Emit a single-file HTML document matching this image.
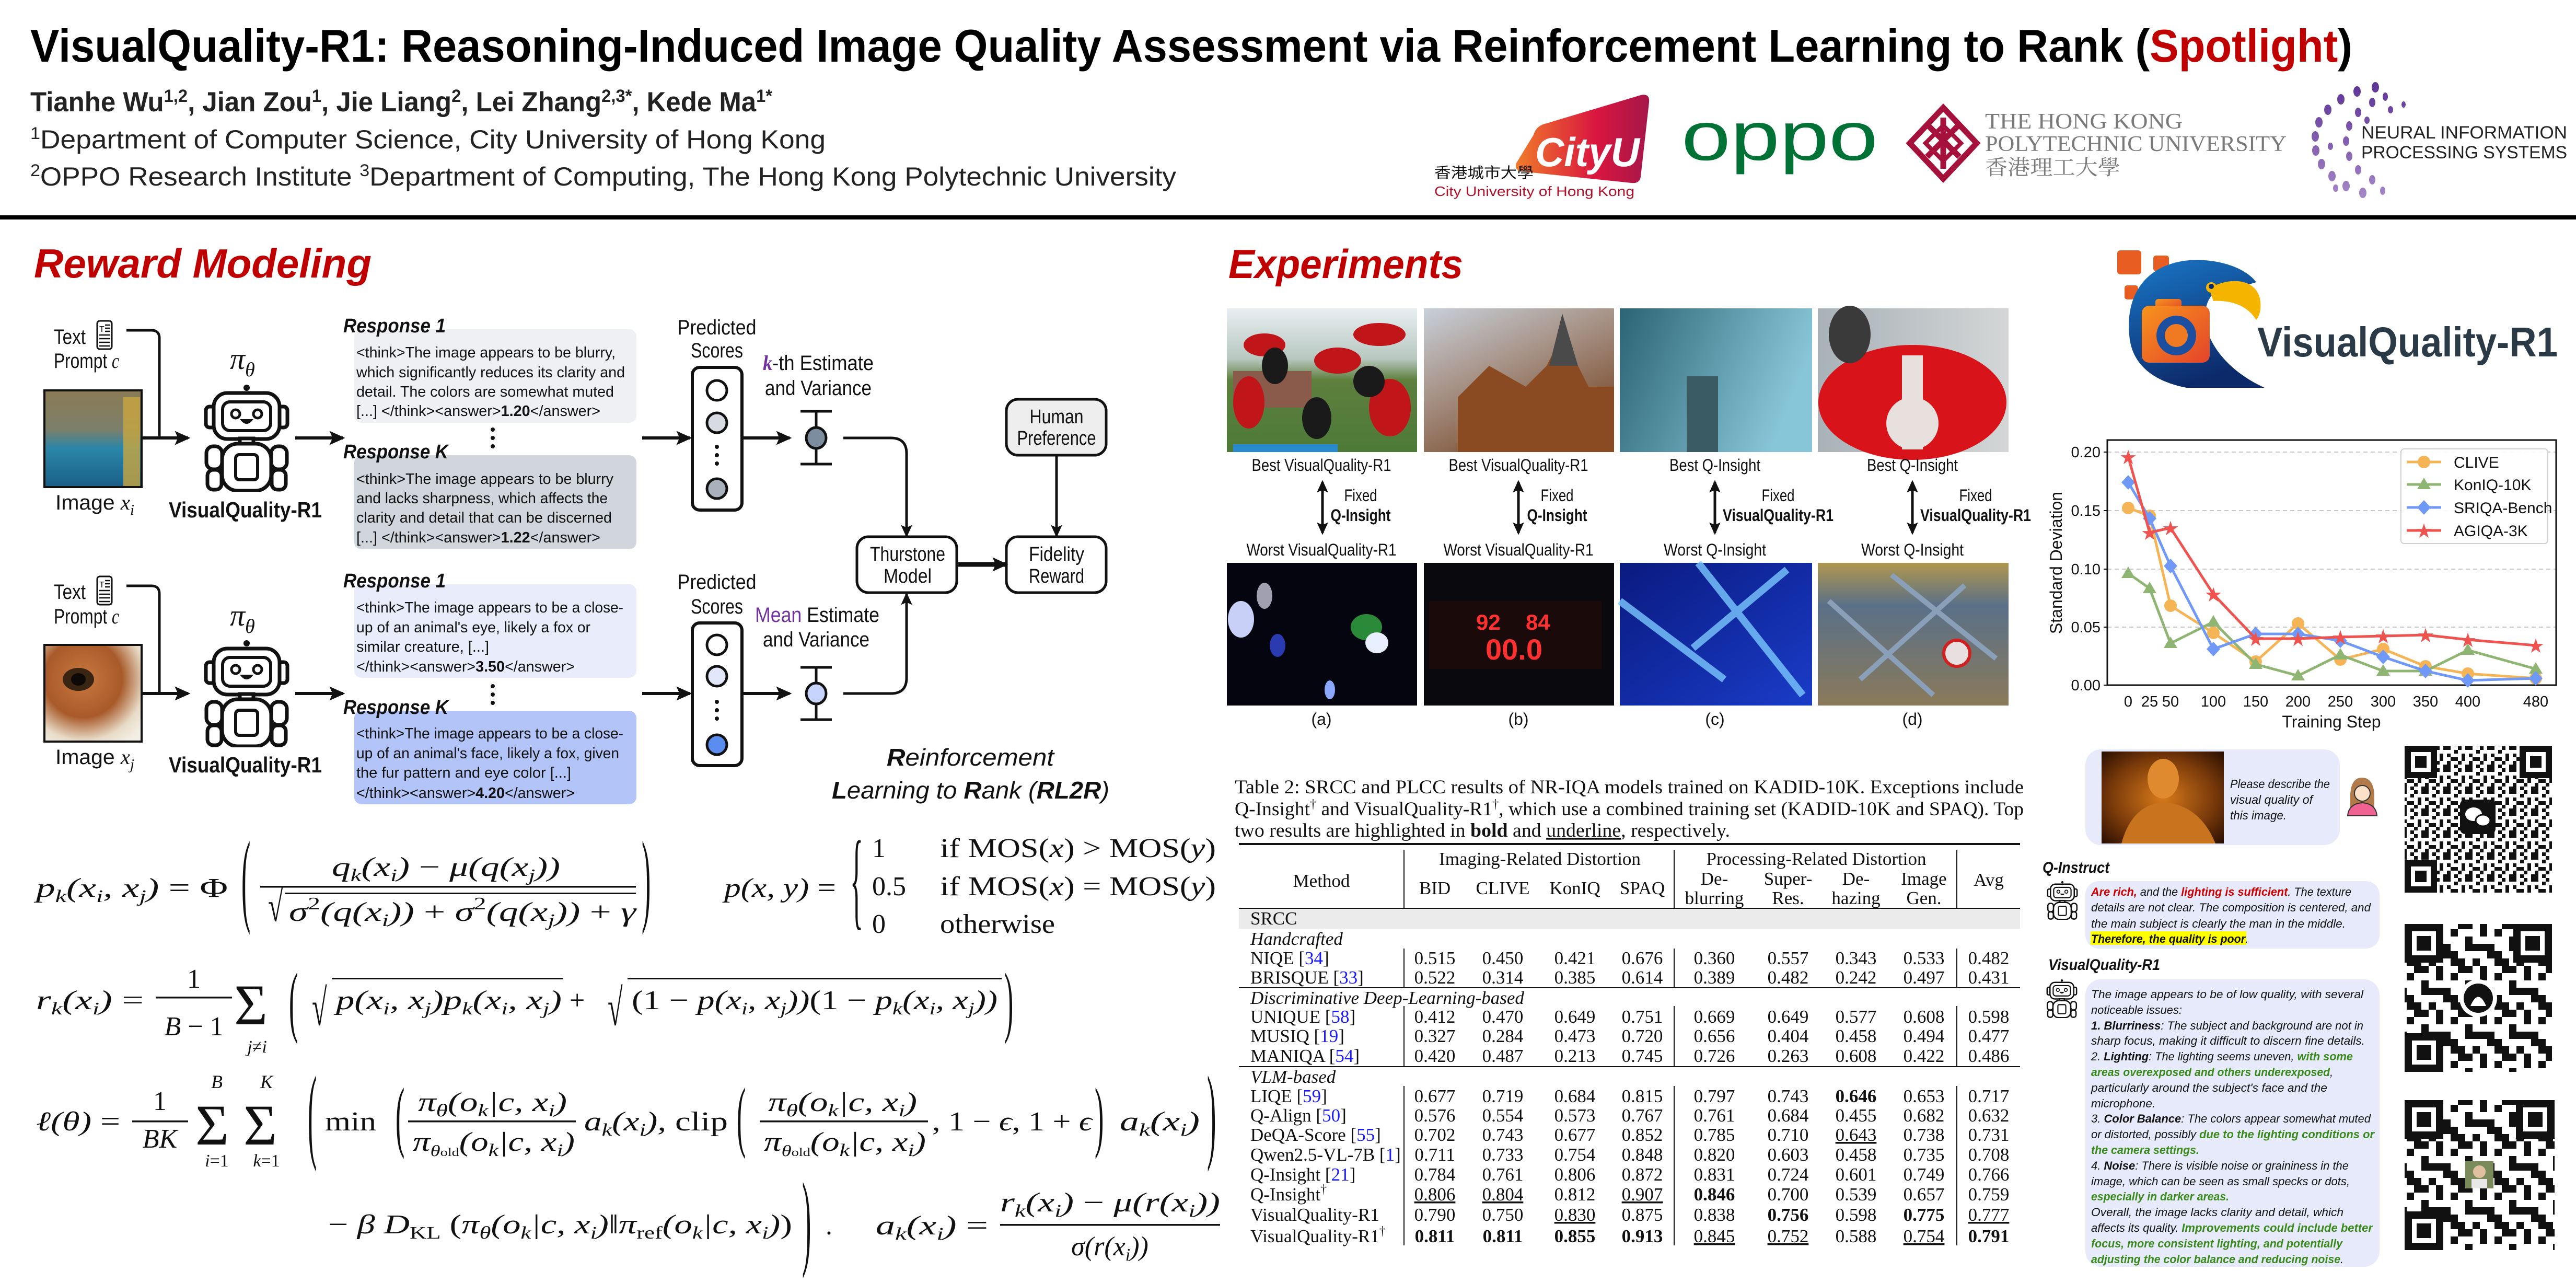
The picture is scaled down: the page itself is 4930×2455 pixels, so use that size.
<!DOCTYPE html>
<html><head><meta charset="utf-8">
<style>
html,body{margin:0;padding:0;background:#fff;}
svg{display:block;}
.sans{font-family:"Liberation Sans",sans-serif;}
.serif{font-family:"Liberation Serif",serif;}
.m{font-family:"Liberation Serif",serif;font-style:italic;}
.r{font-family:"Liberation Serif",serif;font-style:normal;}
</style></head>
<body>
<svg width="4930" height="2455" viewBox="0 0 4930 2455" xmlns="http://www.w3.org/2000/svg">
<defs>
<marker id="ah" viewBox="0 0 20 20" refX="17" refY="10" markerWidth="30" markerHeight="30" orient="auto-start-reverse" markerUnits="userSpaceOnUse"><path d="M0,1 L20,10 L0,19 L4,10 Z" fill="#111"/></marker>
<marker id="ah2" viewBox="0 0 20 20" refX="17" refY="10" markerWidth="24" markerHeight="24" orient="auto-start-reverse" markerUnits="userSpaceOnUse"><path d="M0,1 L20,10 L0,19 L4,10 Z" fill="#111"/></marker>
<symbol id="robot" viewBox="0 0 166 205">
<g fill="#fff" stroke="#111" stroke-width="7">
<rect x="5" y="42" width="18" height="40" rx="7"/><rect x="143" y="42" width="18" height="40" rx="7"/>
<rect x="20" y="16" width="126" height="88" rx="26"/>
<rect x="37" y="33" width="92" height="55" rx="14" stroke-width="6"/>
<rect x="70" y="103" width="26" height="12"/>
<rect x="6" y="118" width="30" height="44" rx="13"/><rect x="130" y="118" width="30" height="44" rx="13"/>
<rect x="8" y="163" width="27" height="38" rx="11"/><rect x="131" y="163" width="27" height="38" rx="11"/>
<rect x="36" y="113" width="94" height="90" rx="30"/>
<rect x="62" y="134" width="42" height="48" rx="7" stroke-width="6"/>
<circle cx="62" cy="56" r="8" stroke-width="5"/><circle cx="104" cy="56" r="8" stroke-width="5"/>
</g>
<circle cx="83" cy="6" r="6" fill="#111"/>
<path d="M70,66 Q83,84 96,66 Z" fill="#111"/>
</symbol>
<symbol id="doc" viewBox="0 0 34 60">
<rect x="3" y="3" width="28" height="54" rx="5" fill="#fff" stroke="#111" stroke-width="3"/>
<text x="7" y="24" font-family="Liberation Sans" font-size="16" fill="#111">T</text>
<g stroke="#111" stroke-width="2.5"><line x1="18" y1="11" x2="28" y2="11"/><line x1="18" y1="17" x2="28" y2="17"/><line x1="18" y1="23" x2="28" y2="23"/><line x1="7" y1="30" x2="28" y2="30"/><line x1="7" y1="37" x2="28" y2="37"/><line x1="7" y1="44" x2="28" y2="44"/><line x1="7" y1="51" x2="28" y2="51"/></g>
</symbol>
<pattern id="qr1" width="42" height="42" patternUnits="userSpaceOnUse">
<g fill="#111"><rect x="0" y="0" width="7" height="7"/><rect x="14" y="0" width="14" height="7"/><rect x="35" y="7" width="7" height="7"/><rect x="7" y="14" width="7" height="14"/><rect x="21" y="14" width="7" height="7"/><rect x="28" y="21" width="14" height="7"/><rect x="0" y="28" width="7" height="7"/><rect x="14" y="35" width="14" height="7"/><rect x="35" y="35" width="7" height="7"/><rect x="21" y="28" width="7" height="7"/></g>
</pattern>
<pattern id="qr2" width="84" height="84" patternUnits="userSpaceOnUse">
<g fill="#111"><rect x="0" y="0" width="28" height="14"/><rect x="42" y="0" width="14" height="28"/><rect x="70" y="14" width="14" height="14"/><rect x="14" y="28" width="14" height="28"/><rect x="28" y="42" width="28" height="14"/><rect x="56" y="42" width="14" height="28"/><rect x="0" y="70" width="14" height="14"/><rect x="28" y="70" width="14" height="14"/><rect x="70" y="56" width="14" height="28"/></g>
</pattern>
<linearGradient id="cityg" x1="0" y1="0" x2="1" y2="0"><stop offset="0" stop-color="#f07b2a"/><stop offset="0.6" stop-color="#d9163f"/><stop offset="1" stop-color="#a5164a"/></linearGradient>
<linearGradient id="nips" x1="0" y1="160" x2="0" y2="380" gradientUnits="userSpaceOnUse"><stop offset="0" stop-color="#5e3596"/><stop offset="1" stop-color="#a588c8"/></linearGradient>
<linearGradient id="eag" x1="0" y1="0" x2="0.4" y2="1"><stop offset="0" stop-color="#1a78c8"/><stop offset="1" stop-color="#0c2a6a"/></linearGradient>
<linearGradient id="cam" x1="0" y1="0" x2="1" y2="1"><stop offset="0" stop-color="#f7941d"/><stop offset="1" stop-color="#e4432a"/></linearGradient>
<linearGradient id="xi" x1="0" y1="0" x2="0" y2="1"><stop offset="0" stop-color="#8a7b55"/><stop offset="0.4" stop-color="#7d7f6a"/><stop offset="0.6" stop-color="#2a86a8"/><stop offset="1" stop-color="#1b5f86"/></linearGradient>
<radialGradient id="xj" cx="0.4" cy="0.35" r="0.8"><stop offset="0" stop-color="#c9783e"/><stop offset="0.5" stop-color="#a85a2a"/><stop offset="0.8" stop-color="#e8dcc8"/><stop offset="1" stop-color="#f4efe6"/></radialGradient>
<linearGradient id="ca" x1="0" y1="0" x2="0" y2="1"><stop offset="0" stop-color="#e8eef2"/><stop offset="0.35" stop-color="#b8c8c0"/><stop offset="0.5" stop-color="#5e7f3e"/><stop offset="1" stop-color="#4d7a38"/></linearGradient>
<linearGradient id="cb" x1="0" y1="0" x2="0.6" y2="1"><stop offset="0" stop-color="#c8d0da"/><stop offset="0.45" stop-color="#a8958a"/><stop offset="1" stop-color="#7a4a2a"/></linearGradient>
<linearGradient id="cc" x1="0" y1="0" x2="1" y2="0.3"><stop offset="0" stop-color="#2c6474"/><stop offset="1" stop-color="#87c6d8"/></linearGradient>
<linearGradient id="cd" x1="0" y1="0" x2="1" y2="0"><stop offset="0" stop-color="#a8b2b8"/><stop offset="1" stop-color="#d4d6d6"/></linearGradient>
<linearGradient id="cc2" x1="0" y1="0" x2="1" y2="1"><stop offset="0" stop-color="#0a1a80"/><stop offset="1" stop-color="#1a3cc8"/></linearGradient>
<linearGradient id="cd2" x1="0" y1="0" x2="0" y2="1"><stop offset="0" stop-color="#b0974e"/><stop offset="0.3" stop-color="#5a7088"/><stop offset="1" stop-color="#8a7a5a"/></linearGradient>
<radialGradient id="man" cx="0.5" cy="0.5" r="0.7"><stop offset="0" stop-color="#d77a1a"/><stop offset="0.6" stop-color="#7a3a0a"/><stop offset="1" stop-color="#2a0e02"/></radialGradient>
</defs>

<!-- HEADER -->
<text x="58" y="118" class="sans" font-size="88" font-weight="bold" fill="#000" textLength="4444" lengthAdjust="spacingAndGlyphs">VisualQuality-R1: Reasoning-Induced Image Quality Assessment via Reinforcement Learning to Rank (<tspan fill="#c00000">Spotlight</tspan>)</text>
<text x="58" y="213" class="sans" font-size="53" font-weight="bold" fill="#222" textLength="1420" lengthAdjust="spacingAndGlyphs">Tianhe Wu<tspan font-size="34" baseline-shift="18">1,2</tspan>, Jian Zou<tspan font-size="34" baseline-shift="18">1</tspan>, Jie Liang<tspan font-size="34" baseline-shift="18">2</tspan>, Lei Zhang<tspan font-size="34" baseline-shift="18">2,3*</tspan>, Kede Ma<tspan font-size="34" baseline-shift="18">1*</tspan></text>
<text x="58" y="284" class="sans" font-size="50" fill="#222" textLength="1522" lengthAdjust="spacingAndGlyphs"><tspan font-size="32" baseline-shift="18">1</tspan>Department of Computer Science, City University of Hong Kong</text>
<text x="58" y="355" class="sans" font-size="50" fill="#222" textLength="2193" lengthAdjust="spacingAndGlyphs"><tspan font-size="32" baseline-shift="18">2</tspan>OPPO Research Institute <tspan font-size="32" baseline-shift="18">3</tspan>Department of Computing, The Hong Kong Polytechnic University</text>
<rect x="0" y="412" width="4930" height="8" fill="#000"/>

<!-- LOGOS -->
<path d="M2935,258 Q2940,240 2960,236 L3140,182 Q3158,178 3156,196 L3140,338 Q3138,352 3122,350 L2912,328 Q2898,326 2902,312 Z" fill="url(#cityg)"/>
<text x="2938" y="318" class="sans" font-size="78" font-weight="bold" font-style="italic" fill="#fff" textLength="200" lengthAdjust="spacingAndGlyphs">CityU</text>
<text x="2745" y="340" font-family="'Noto Sans CJK TC',sans-serif" font-size="28" fill="#111" textLength="190" lengthAdjust="spacingAndGlyphs">香港城市大學</text>
<text x="2745" y="375" class="sans" font-size="26" fill="#b0102a" textLength="383" lengthAdjust="spacingAndGlyphs">City University of Hong Kong</text>
<text x="3218" y="306" class="sans" font-size="132" fill="#007236" textLength="376" lengthAdjust="spacingAndGlyphs">oppo</text>
<g fill="none" stroke="#a6113c" stroke-width="11">
<path d="M3719,206 L3783,274 L3719,342 L3655,274 Z"/>
<path d="M3690,240 L3750,300 M3748,240 L3688,300 M3719,225 L3719,323"/>
<path d="M3685,274 L3719,240 L3753,274 L3719,308 Z" stroke-width="8"/>
</g>
<text x="3799" y="246" class="serif" font-size="42" fill="#7a7a7a" textLength="378" lengthAdjust="spacingAndGlyphs">THE HONG KONG</text>
<text x="3799" y="289" class="serif" font-size="42" fill="#7a7a7a" textLength="577" lengthAdjust="spacingAndGlyphs">POLYTECHNIC UNIVERSITY</text>
<text x="3799" y="334" font-family="'Noto Serif CJK SC','Noto Sans CJK TC',serif" font-size="40" fill="#7a7a7a" textLength="259" lengthAdjust="spacingAndGlyphs">香港理工大學</text>
<g fill="url(#nips)">
<ellipse cx="4522" cy="369" rx="7" ry="10"/><ellipse cx="4490" cy="356" rx="7" ry="10"/><ellipse cx="4463" cy="337" rx="7" ry="10"/><ellipse cx="4443" cy="314" rx="7" ry="10"/><ellipse cx="4432" cy="288" rx="7" ry="10"/><ellipse cx="4431" cy="261" rx="7" ry="10"/><ellipse cx="4438" cy="234" rx="7" ry="10"/><ellipse cx="4455" cy="210" rx="7" ry="10"/><ellipse cx="4480" cy="190" rx="7" ry="10"/><ellipse cx="4511" cy="175" rx="7" ry="10"/><ellipse cx="4546" cy="167" rx="7" ry="10"/>
<ellipse cx="4540" cy="344" rx="6" ry="9"/><ellipse cx="4513" cy="325" rx="6" ry="9"/><ellipse cx="4496" cy="299" rx="6" ry="9"/><ellipse cx="4490" cy="270" rx="6" ry="9"/><ellipse cx="4496" cy="241" rx="6" ry="9"/><ellipse cx="4513" cy="215" rx="6" ry="9"/><ellipse cx="4540" cy="196" rx="6" ry="9"/><ellipse cx="4565" cy="185" rx="5" ry="8"/><ellipse cx="4575" cy="210" rx="5" ry="7"/><ellipse cx="4600" cy="200" rx="4" ry="6"/><ellipse cx="4460" cy="280" rx="5" ry="7"/><ellipse cx="4470" cy="360" rx="5" ry="7"/><ellipse cx="4560" cy="365" rx="5" ry="8"/><ellipse cx="4530" cy="230" rx="5" ry="7"/>
</g>
<text x="4519" y="265" class="sans" font-size="34" fill="#222" textLength="394" lengthAdjust="spacingAndGlyphs">NEURAL INFORMATION</text>
<text x="4519" y="303" class="sans" font-size="34" fill="#222" textLength="394" lengthAdjust="spacingAndGlyphs">PROCESSING SYSTEMS</text>

<!-- REWARD MODELING -->
<text x="65" y="531" class="sans" font-size="78" font-weight="bold" font-style="italic" fill="#c00000" textLength="646" lengthAdjust="spacingAndGlyphs">Reward Modeling</text>

<!-- top branch -->
<text x="103" y="658" class="sans" font-size="40" fill="#111" textLength="61" lengthAdjust="spacingAndGlyphs">Text</text>
<text x="103" y="704" class="sans" font-size="40" fill="#111" textLength="125" lengthAdjust="spacingAndGlyphs">Prompt <tspan class="m">c</tspan></text>
<use href="#doc" x="183" y="611" width="34" height="60"/>
<rect x="85" y="747" width="186" height="185" fill="url(#xi)" stroke="#111" stroke-width="4"/>
<rect x="236" y="760" width="32" height="170" fill="#c9a640" opacity="0.8"/>
<text x="106" y="975" class="sans" font-size="40" fill="#111" textLength="151" lengthAdjust="spacingAndGlyphs">Image <tspan class="m">x<tspan font-size="28" baseline-shift="-10">i</tspan></tspan></text>
<text x="440" y="706" class="m" font-size="58" fill="#111">π<tspan font-size="38" baseline-shift="-14">θ</tspan></text>
<use href="#robot" x="389" y="736" width="166" height="205"/>
<text x="323" y="990" class="sans" font-size="42" font-weight="bold" fill="#111" textLength="293" lengthAdjust="spacingAndGlyphs">VisualQuality-R1</text>
<path d="M242,632 H290 Q305,632 305,647 V838" fill="none" stroke="#111" stroke-width="5"/>
<line x1="271" y1="838" x2="360" y2="838" stroke="#111" stroke-width="6" marker-end="url(#ah)"/>
<line x1="565" y1="838" x2="656" y2="838" stroke="#111" stroke-width="6" marker-end="url(#ah)"/>

<rect x="678" y="630" width="540" height="179" rx="14" fill="#eff0f4"/>
<text x="657" y="636" class="sans" font-size="38" font-weight="bold" font-style="italic" fill="#111" textLength="196" lengthAdjust="spacingAndGlyphs">Response 1</text>
<g class="sans" font-size="29" fill="#111">
<text x="682" y="684" textLength="496" lengthAdjust="spacingAndGlyphs">&lt;think&gt;The image appears to be blurry,</text>
<text x="682" y="722" textLength="514" lengthAdjust="spacingAndGlyphs">which significantly reduces its clarity and</text>
<text x="682" y="759" textLength="493" lengthAdjust="spacingAndGlyphs">detail. The colors are somewhat muted</text>
<text x="682" y="796" textLength="467" lengthAdjust="spacingAndGlyphs">[...] &lt;/think&gt;&lt;answer&gt;<tspan font-weight="bold">1.20</tspan>&lt;/answer&gt;</text>
</g>
<g fill="#111"><circle cx="943" cy="822" r="4"/><circle cx="943" cy="838" r="4"/><circle cx="943" cy="854" r="4"/></g>
<rect x="678" y="871" width="540" height="180" rx="14" fill="#d1d5dc"/>
<text x="657" y="877" class="sans" font-size="38" font-weight="bold" font-style="italic" fill="#111" textLength="201" lengthAdjust="spacingAndGlyphs">Response K</text>
<g class="sans" font-size="29" fill="#111">
<text x="682" y="926" textLength="492" lengthAdjust="spacingAndGlyphs">&lt;think&gt;The image appears to be blurry</text>
<text x="682" y="963" textLength="481" lengthAdjust="spacingAndGlyphs">and lacks sharpness, which affects the</text>
<text x="682" y="1000" textLength="489" lengthAdjust="spacingAndGlyphs">clarity and detail that can be discerned</text>
<text x="682" y="1038" textLength="467" lengthAdjust="spacingAndGlyphs">[...] &lt;/think&gt;&lt;answer&gt;<tspan font-weight="bold">1.22</tspan>&lt;/answer&gt;</text>
</g>

<text x="1372" y="640" text-anchor="middle" class="sans" font-size="40" fill="#111" textLength="151" lengthAdjust="spacingAndGlyphs">Predicted</text>
<text x="1372" y="684" text-anchor="middle" class="sans" font-size="40" fill="#111" textLength="100" lengthAdjust="spacingAndGlyphs">Scores</text>
<line x1="1229" y1="838" x2="1320" y2="838" stroke="#111" stroke-width="6" marker-end="url(#ah)"/>
<rect x="1325" y="703" width="95" height="273" rx="14" fill="#fff" stroke="#111" stroke-width="6"/>
<g stroke="#111" stroke-width="5"><circle cx="1372" cy="747" r="19" fill="#fff"/><circle cx="1372" cy="809" r="19" fill="#d8dbe1"/><circle cx="1372" cy="935" r="19" fill="#a9b1bd"/></g>
<g fill="#111"><circle cx="1372" cy="855" r="4"/><circle cx="1372" cy="871" r="4"/><circle cx="1372" cy="887" r="4"/></g>
<line x1="1423" y1="838" x2="1511" y2="838" stroke="#111" stroke-width="6" marker-end="url(#ah)"/>
<text x="1460" y="708" class="sans" font-size="40" fill="#111" textLength="212" lengthAdjust="spacingAndGlyphs"><tspan fill="#7030a0" font-style="italic" font-weight="bold" class="m">k</tspan>-th Estimate</text>
<text x="1464" y="756" class="sans" font-size="40" fill="#111" textLength="204" lengthAdjust="spacingAndGlyphs">and Variance</text>
<g stroke="#111" stroke-width="5"><line x1="1562" y1="787" x2="1562" y2="888"/><line x1="1532" y1="787" x2="1592" y2="787"/><line x1="1532" y1="888" x2="1592" y2="888"/><ellipse cx="1562" cy="838" rx="19" ry="20" fill="#7d8da0"/></g>
<path d="M1614,838 H1705 Q1735,838 1735,868 V1025" fill="none" stroke="#111" stroke-width="5" marker-end="url(#ah2)"/>

<rect x="1926" y="764" width="191" height="107" rx="22" fill="#eeeeee" stroke="#111" stroke-width="5"/>
<text x="2022" y="810" text-anchor="middle" class="sans" font-size="38" fill="#111" textLength="103" lengthAdjust="spacingAndGlyphs">Human</text>
<text x="2022" y="851" text-anchor="middle" class="sans" font-size="38" fill="#111" textLength="151" lengthAdjust="spacingAndGlyphs">Preference</text>
<line x1="2022" y1="871" x2="2022" y2="1025" stroke="#111" stroke-width="5" marker-end="url(#ah2)"/>
<rect x="1640" y="1027" width="191" height="107" rx="22" fill="#fff" stroke="#111" stroke-width="5"/>
<text x="1737" y="1073" text-anchor="middle" class="sans" font-size="38" fill="#111" textLength="144" lengthAdjust="spacingAndGlyphs">Thurstone</text>
<text x="1737" y="1115" text-anchor="middle" class="sans" font-size="38" fill="#111" textLength="92" lengthAdjust="spacingAndGlyphs">Model</text>
<rect x="1926" y="1027" width="191" height="107" rx="22" fill="#fff" stroke="#111" stroke-width="5"/>
<text x="2022" y="1073" text-anchor="middle" class="sans" font-size="38" fill="#111" textLength="106" lengthAdjust="spacingAndGlyphs">Fidelity</text>
<text x="2022" y="1115" text-anchor="middle" class="sans" font-size="38" fill="#111" textLength="106" lengthAdjust="spacingAndGlyphs">Reward</text>
<line x1="1834" y1="1080" x2="1925" y2="1080" stroke="#111" stroke-width="9" marker-end="url(#ah)"/>

<!-- bottom branch -->
<text x="103" y="1146" class="sans" font-size="40" fill="#111" textLength="61" lengthAdjust="spacingAndGlyphs">Text</text>
<text x="103" y="1193" class="sans" font-size="40" fill="#111" textLength="125" lengthAdjust="spacingAndGlyphs">Prompt <tspan class="m">c</tspan></text>
<use href="#doc" x="183" y="1100" width="34" height="60"/>
<rect x="85" y="1234" width="186" height="185" fill="url(#xj)" stroke="#111" stroke-width="4"/>
<ellipse cx="150" cy="1300" rx="30" ry="22" fill="#3a2412"/><ellipse cx="150" cy="1300" rx="14" ry="12" fill="#0e0906"/>
<text x="106" y="1462" class="sans" font-size="40" fill="#111" textLength="151" lengthAdjust="spacingAndGlyphs">Image <tspan class="m">x<tspan font-size="28" baseline-shift="-10">j</tspan></tspan></text>
<text x="440" y="1197" class="m" font-size="58" fill="#111">π<tspan font-size="38" baseline-shift="-14">θ</tspan></text>
<use href="#robot" x="389" y="1225" width="166" height="205"/>
<text x="323" y="1478" class="sans" font-size="42" font-weight="bold" fill="#111" textLength="293" lengthAdjust="spacingAndGlyphs">VisualQuality-R1</text>
<path d="M242,1121 H290 Q305,1121 305,1136 V1327" fill="none" stroke="#111" stroke-width="5"/>
<line x1="271" y1="1327" x2="360" y2="1327" stroke="#111" stroke-width="6" marker-end="url(#ah)"/>
<line x1="565" y1="1327" x2="656" y2="1327" stroke="#111" stroke-width="6" marker-end="url(#ah)"/>

<rect x="678" y="1118" width="540" height="179" rx="14" fill="#e8ecfb"/>
<text x="657" y="1124" class="sans" font-size="38" font-weight="bold" font-style="italic" fill="#111" textLength="196" lengthAdjust="spacingAndGlyphs">Response 1</text>
<g class="sans" font-size="29" fill="#111">
<text x="682" y="1172" textLength="511" lengthAdjust="spacingAndGlyphs">&lt;think&gt;The image appears to be a close-</text>
<text x="682" y="1210" textLength="448" lengthAdjust="spacingAndGlyphs">up of an animal's eye, likely a fox or</text>
<text x="682" y="1247" textLength="254" lengthAdjust="spacingAndGlyphs">similar creature, [...]</text>
<text x="682" y="1285" textLength="418" lengthAdjust="spacingAndGlyphs">&lt;/think&gt;&lt;answer&gt;<tspan font-weight="bold">3.50</tspan>&lt;/answer&gt;</text>
</g>
<g fill="#111"><circle cx="943" cy="1313" r="4"/><circle cx="943" cy="1329" r="4"/><circle cx="943" cy="1345" r="4"/></g>
<rect x="678" y="1360" width="540" height="179" rx="14" fill="#b3c5f8"/>
<text x="657" y="1366" class="sans" font-size="38" font-weight="bold" font-style="italic" fill="#111" textLength="201" lengthAdjust="spacingAndGlyphs">Response K</text>
<g class="sans" font-size="29" fill="#111">
<text x="682" y="1413" textLength="511" lengthAdjust="spacingAndGlyphs">&lt;think&gt;The image appears to be a close-</text>
<text x="682" y="1451" textLength="503" lengthAdjust="spacingAndGlyphs">up of an animal's face, likely a fox, given</text>
<text x="682" y="1488" textLength="411" lengthAdjust="spacingAndGlyphs">the fur pattern and eye color [...]</text>
<text x="682" y="1527" textLength="418" lengthAdjust="spacingAndGlyphs">&lt;/think&gt;&lt;answer&gt;<tspan font-weight="bold">4.20</tspan>&lt;/answer&gt;</text>
</g>

<text x="1372" y="1127" text-anchor="middle" class="sans" font-size="40" fill="#111" textLength="151" lengthAdjust="spacingAndGlyphs">Predicted</text>
<text x="1372" y="1174" text-anchor="middle" class="sans" font-size="40" fill="#111" textLength="100" lengthAdjust="spacingAndGlyphs">Scores</text>
<line x1="1229" y1="1327" x2="1320" y2="1327" stroke="#111" stroke-width="6" marker-end="url(#ah)"/>
<rect x="1325" y="1192" width="95" height="273" rx="14" fill="#fff" stroke="#111" stroke-width="6"/>
<g stroke="#111" stroke-width="5"><circle cx="1372" cy="1234" r="19" fill="#fff"/><circle cx="1372" cy="1294" r="19" fill="#e2e7fb"/><circle cx="1372" cy="1425" r="19" fill="#5b8cf0"/></g>
<g fill="#111"><circle cx="1372" cy="1343" r="4"/><circle cx="1372" cy="1359" r="4"/><circle cx="1372" cy="1375" r="4"/></g>
<line x1="1423" y1="1327" x2="1511" y2="1327" stroke="#111" stroke-width="6" marker-end="url(#ah)"/>
<text x="1445" y="1190" class="sans" font-size="40" fill="#111" textLength="238" lengthAdjust="spacingAndGlyphs"><tspan fill="#7030a0">Mean</tspan> Estimate</text>
<text x="1460" y="1237" class="sans" font-size="40" fill="#111" textLength="204" lengthAdjust="spacingAndGlyphs">and Variance</text>
<g stroke="#111" stroke-width="5"><line x1="1562" y1="1277" x2="1562" y2="1377"/><line x1="1532" y1="1277" x2="1592" y2="1277"/><line x1="1532" y1="1377" x2="1592" y2="1377"/><ellipse cx="1562" cy="1327" rx="19" ry="20" fill="#c7d4fb"/></g>
<path d="M1614,1327 H1705 Q1735,1327 1735,1297 V1137" fill="none" stroke="#111" stroke-width="5" marker-end="url(#ah2)"/>

<text x="1697" y="1465" class="sans" font-size="46" font-style="italic" fill="#111" textLength="320" lengthAdjust="spacingAndGlyphs"><tspan font-weight="bold">R</tspan>einforcement</text>
<text x="1592" y="1528" class="sans" font-size="46" font-style="italic" fill="#111" textLength="531" lengthAdjust="spacingAndGlyphs"><tspan font-weight="bold">L</tspan>earning to <tspan font-weight="bold">R</tspan>ank (<tspan font-weight="bold">RL2R</tspan>)</text>

<!-- EQUATIONS -->
<g fill="#111">
<text x="69" y="1716" class="m" font-size="52" textLength="367" lengthAdjust="spacingAndGlyphs">p<tspan font-size="34" baseline-shift="-10">k</tspan>(x<tspan font-size="34" baseline-shift="-10">i</tspan>, x<tspan font-size="34" baseline-shift="-10">j</tspan>) <tspan class="r">= Φ</tspan></text>
<text transform="translate(462,1697) scale(1,3.8)" y="13" class="r" font-size="52">(</text>
<text x="635" y="1676" class="m" font-size="52" textLength="437" lengthAdjust="spacingAndGlyphs">q<tspan font-size="34" baseline-shift="-10">k</tspan>(x<tspan font-size="34" baseline-shift="-10">i</tspan>) <tspan class="r">−</tspan> μ(q(x<tspan font-size="34" baseline-shift="-10">j</tspan>))</text>
<rect x="498" y="1695" width="719" height="3.5"/>
<text transform="translate(513,1740) scale(1,1.6)" y="14" class="r" font-size="52">√</text>
<rect x="545" y="1708" width="672" height="3"/>
<text x="553" y="1762" class="m" font-size="52" textLength="664" lengthAdjust="spacingAndGlyphs">σ<tspan font-size="34" baseline-shift="22" class="r">2</tspan>(q(x<tspan font-size="34" baseline-shift="-10">i</tspan>)) <tspan class="r">+</tspan> σ<tspan font-size="34" baseline-shift="22" class="r">2</tspan>(q(x<tspan font-size="34" baseline-shift="-10">j</tspan>)) <tspan class="r">+</tspan> γ</text>
<text transform="translate(1228,1697) scale(1,3.8)" y="13" class="r" font-size="52">)</text>
<text x="1386" y="1716" class="m" font-size="52" textLength="214" lengthAdjust="spacingAndGlyphs">p(x, y) <tspan class="r">=</tspan></text>
<text transform="translate(1627,1700) scale(1,4)" y="13" class="r" font-size="52">{</text>
<text x="1669" y="1640" class="r" font-size="52">1</text>
<text x="1799" y="1640" class="r" font-size="52" textLength="528" lengthAdjust="spacingAndGlyphs">if MOS(<tspan class="m">x</tspan>) &gt; MOS(<tspan class="m">y</tspan>)</text>
<text x="1669" y="1713" class="r" font-size="52">0.5</text>
<text x="1799" y="1713" class="r" font-size="52" textLength="528" lengthAdjust="spacingAndGlyphs">if MOS(<tspan class="m">x</tspan>) = MOS(<tspan class="m">y</tspan>)</text>
<text x="1669" y="1785" class="r" font-size="52">0</text>
<text x="1799" y="1785" class="r" font-size="52" textLength="220" lengthAdjust="spacingAndGlyphs">otherwise</text>
<text x="69" y="1931" class="m" font-size="52" textLength="206" lengthAdjust="spacingAndGlyphs">r<tspan font-size="34" baseline-shift="-10">k</tspan>(x<tspan font-size="34" baseline-shift="-10">i</tspan>) <tspan class="r">=</tspan></text>
<text x="371" y="1890" text-anchor="middle" class="r" font-size="52">1</text>
<rect x="298" y="1907" width="146" height="3.5"/>
<text x="371" y="1981" text-anchor="middle" class="m" font-size="52">B <tspan class="r">− 1</tspan></text>
<text x="448" y="1960" class="r" font-size="110">Σ</text>
<text x="492" y="2014" text-anchor="middle" class="m" font-size="34">j<tspan class="r">≠</tspan>i</text>
<text transform="translate(553,1928) scale(1,2.9)" y="13" class="r" font-size="52">(</text>
<text transform="translate(597,1935) scale(1,1.9)" y="14" class="r" font-size="52">√</text>
<rect x="635" y="1871" width="443" height="3"/>
<text x="643" y="1931" class="m" font-size="52" textLength="432" lengthAdjust="spacingAndGlyphs">p(x<tspan font-size="34" baseline-shift="-10">i</tspan>, x<tspan font-size="34" baseline-shift="-10">j</tspan>)p<tspan font-size="34" baseline-shift="-10">k</tspan>(x<tspan font-size="34" baseline-shift="-10">i</tspan>, x<tspan font-size="34" baseline-shift="-10">j</tspan>)</text>
<text x="1090" y="1931" class="r" font-size="52">+</text>
<text transform="translate(1163,1935) scale(1,1.9)" y="14" class="r" font-size="52">√</text>
<rect x="1201" y="1871" width="716" height="3"/>
<text x="1209" y="1931" class="m" font-size="52" textLength="700" lengthAdjust="spacingAndGlyphs"><tspan class="r">(1 −</tspan> p(x<tspan font-size="34" baseline-shift="-10">i</tspan>, x<tspan font-size="34" baseline-shift="-10">j</tspan>))<tspan class="r">(1 −</tspan> p<tspan font-size="34" baseline-shift="-10">k</tspan>(x<tspan font-size="34" baseline-shift="-10">i</tspan>, x<tspan font-size="34" baseline-shift="-10">j</tspan>))</text>
<text transform="translate(1922,1928) scale(1,2.9)" y="13" class="r" font-size="52">)</text>
<text x="69" y="2163" class="m" font-size="52" textLength="161" lengthAdjust="spacingAndGlyphs">ℓ(θ) <tspan class="r">=</tspan></text>
<text x="306" y="2124" text-anchor="middle" class="r" font-size="52">1</text>
<rect x="253" y="2144" width="107" height="3.5"/>
<text x="306" y="2196" text-anchor="middle" class="m" font-size="52">BK</text>
<text x="415" y="2082" text-anchor="middle" class="m" font-size="36">B</text>
<text x="510" y="2082" text-anchor="middle" class="m" font-size="36">K</text>
<text x="374" y="2190" class="r" font-size="110">Σ</text>
<text x="466" y="2190" class="r" font-size="110">Σ</text>
<text x="415" y="2232" text-anchor="middle" class="m" font-size="34">i<tspan class="r">=1</tspan></text>
<text x="510" y="2232" text-anchor="middle" class="m" font-size="34">k<tspan class="r">=1</tspan></text>
<text transform="translate(589,2148) scale(1,3.9)" y="13" class="r" font-size="52">(</text>
<text x="622" y="2163" class="r" font-size="52" textLength="98" lengthAdjust="spacingAndGlyphs">min</text>
<text transform="translate(757,2148) scale(1,2.9)" y="13" class="r" font-size="52">(</text>
<text x="800" y="2126" class="m" font-size="52" textLength="285" lengthAdjust="spacingAndGlyphs">π<tspan font-size="34" baseline-shift="-10">θ</tspan>(o<tspan font-size="34" baseline-shift="-10">k</tspan>|c, x<tspan font-size="34" baseline-shift="-10">i</tspan>)</text>
<rect x="781" y="2144" width="321" height="3.5"/>
<text x="790" y="2202" class="m" font-size="52" textLength="310" lengthAdjust="spacingAndGlyphs">π<tspan font-size="30" baseline-shift="-10">θ<tspan font-size="22" class="r">old</tspan></tspan>(o<tspan font-size="34" baseline-shift="-10">k</tspan>|c, x<tspan font-size="34" baseline-shift="-10">i</tspan>)</text>
<text x="1118" y="2163" class="m" font-size="52" textLength="275" lengthAdjust="spacingAndGlyphs">a<tspan font-size="34" baseline-shift="-10">k</tspan>(x<tspan font-size="34" baseline-shift="-10">i</tspan>), <tspan class="r">clip</tspan></text>
<text transform="translate(1410,2148) scale(1,2.9)" y="13" class="r" font-size="52">(</text>
<text x="1470" y="2126" class="m" font-size="52" textLength="285" lengthAdjust="spacingAndGlyphs">π<tspan font-size="34" baseline-shift="-10">θ</tspan>(o<tspan font-size="34" baseline-shift="-10">k</tspan>|c, x<tspan font-size="34" baseline-shift="-10">i</tspan>)</text>
<rect x="1454" y="2144" width="322" height="3.5"/>
<text x="1462" y="2202" class="m" font-size="52" textLength="310" lengthAdjust="spacingAndGlyphs">π<tspan font-size="30" baseline-shift="-10">θ<tspan font-size="22" class="r">old</tspan></tspan>(o<tspan font-size="34" baseline-shift="-10">k</tspan>|c, x<tspan font-size="34" baseline-shift="-10">i</tspan>)</text>
<text x="1784" y="2163" class="m" font-size="52" textLength="306" lengthAdjust="spacingAndGlyphs"><tspan class="r">, 1 −</tspan> ϵ<tspan class="r">, 1 +</tspan> ϵ</text>
<text transform="translate(2095,2148) scale(1,2.9)" y="13" class="r" font-size="52">)</text>
<text x="2143" y="2163" class="m" font-size="52" textLength="153" lengthAdjust="spacingAndGlyphs">a<tspan font-size="34" baseline-shift="-10">k</tspan>(x<tspan font-size="34" baseline-shift="-10">i</tspan>)</text>
<text transform="translate(2310,2148) scale(1,3.9)" y="13" class="r" font-size="52">)</text>
<text x="628" y="2360" class="m" font-size="52" textLength="888" lengthAdjust="spacingAndGlyphs"><tspan class="r">−</tspan> β D<tspan font-size="34" baseline-shift="-10" class="r">KL</tspan> <tspan class="r">(</tspan>π<tspan font-size="34" baseline-shift="-10">θ</tspan>(o<tspan font-size="34" baseline-shift="-10">k</tspan>|c, x<tspan font-size="34" baseline-shift="-10">i</tspan>)<tspan class="r">‖</tspan>π<tspan font-size="34" baseline-shift="-10" class="r">ref</tspan>(o<tspan font-size="34" baseline-shift="-10">k</tspan>|c, x<tspan font-size="34" baseline-shift="-10">i</tspan>)<tspan class="r">)</tspan></text>
<text transform="translate(1535,2352) scale(1,3.9)" y="13" class="r" font-size="52">)</text>
<text x="1580" y="2362" class="r" font-size="52">.</text>
<text x="1676" y="2362" class="m" font-size="52" textLength="215" lengthAdjust="spacingAndGlyphs">a<tspan font-size="34" baseline-shift="-10">k</tspan>(x<tspan font-size="34" baseline-shift="-10">i</tspan>) <tspan class="r">=</tspan></text>
<text x="1914" y="2318" class="m" font-size="52" textLength="421" lengthAdjust="spacingAndGlyphs">r<tspan font-size="34" baseline-shift="-10">k</tspan>(x<tspan font-size="34" baseline-shift="-10">i</tspan>) <tspan class="r">−</tspan> μ(r(x<tspan font-size="34" baseline-shift="-10">i</tspan>))</text>
<rect x="1914" y="2342" width="421" height="3.5"/>
<text x="2124" y="2402" text-anchor="middle" class="m" font-size="52">σ(r(x<tspan font-size="34" baseline-shift="-10">i</tspan>))</text>
</g>

<!-- EXPERIMENTS -->
<text x="2351" y="532" class="sans" font-size="78" font-weight="bold" font-style="italic" fill="#c00000" textLength="449" lengthAdjust="spacingAndGlyphs">Experiments</text>
<rect x="2348" y="590" width="364" height="275" fill="url(#ca)"/>
<rect x="2360" y="710" width="150" height="70" fill="#8a5a4a"/>
<g fill="#c0161a"><ellipse cx="2420" cy="660" rx="40" ry="22"/><ellipse cx="2560" cy="690" rx="45" ry="25"/><ellipse cx="2640" cy="640" rx="50" ry="22"/><ellipse cx="2660" cy="780" rx="40" ry="55"/><ellipse cx="2390" cy="770" rx="30" ry="50"/></g>
<g fill="#1a1a1a"><ellipse cx="2440" cy="700" rx="25" ry="35"/><ellipse cx="2620" cy="730" rx="30" ry="30"/><ellipse cx="2520" cy="800" rx="28" ry="40"/></g>
<rect x="2360" y="850" width="200" height="15" fill="#2a8ad0"/>
<rect x="2725" y="590" width="364" height="275" fill="url(#cb)"/>
<path d="M2790,865 L2790,760 L2850,700 L2920,740 L2960,700 L2990,640 L3020,700 L3040,740 L3089,740 L3089,865 Z" fill="#8a4a22"/>
<path d="M2990,600 L2965,700 L3020,700 Z" fill="#4a4a4a"/>
<rect x="3100" y="590" width="368" height="275" fill="url(#cc)"/>
<rect x="3228" y="720" width="60" height="145" fill="#3a5a64"/>
<rect x="3479" y="590" width="365" height="275" fill="url(#cd)"/>
<ellipse cx="3660" cy="770" rx="180" ry="110" fill="#d8141a"/>
<rect x="3640" y="680" width="40" height="180" fill="#e8e0dc"/>
<circle cx="3660" cy="810" r="50" fill="#e8e0dc"/>
<ellipse cx="3540" cy="640" rx="40" ry="55" fill="#3a3a3a"/>
<g class="sans" font-size="32" fill="#111" text-anchor="middle">
<text x="2529" y="901" textLength="267" lengthAdjust="spacingAndGlyphs">Best VisualQuality-R1</text>
<text x="2906" y="901" textLength="267" lengthAdjust="spacingAndGlyphs">Best VisualQuality-R1</text>
<text x="3282" y="901" textLength="174" lengthAdjust="spacingAndGlyphs">Best Q-Insight</text>
<text x="3660" y="901" textLength="174" lengthAdjust="spacingAndGlyphs">Best Q-Insight</text>
<text x="2604" y="959" textLength="63" lengthAdjust="spacingAndGlyphs">Fixed</text>
<text x="2980" y="959" textLength="63" lengthAdjust="spacingAndGlyphs">Fixed</text>
<text x="3403" y="959" textLength="63" lengthAdjust="spacingAndGlyphs">Fixed</text>
<text x="3781" y="959" textLength="63" lengthAdjust="spacingAndGlyphs">Fixed</text>
<text x="2604" y="997" font-weight="bold" textLength="115" lengthAdjust="spacingAndGlyphs">Q-Insight</text>
<text x="2980" y="997" font-weight="bold" textLength="115" lengthAdjust="spacingAndGlyphs">Q-Insight</text>
<text x="3403" y="997" font-weight="bold" textLength="212" lengthAdjust="spacingAndGlyphs">VisualQuality-R1</text>
<text x="3781" y="997" font-weight="bold" textLength="212" lengthAdjust="spacingAndGlyphs">VisualQuality-R1</text>
<text x="2529" y="1063" textLength="287" lengthAdjust="spacingAndGlyphs">Worst VisualQuality-R1</text>
<text x="2906" y="1063" textLength="287" lengthAdjust="spacingAndGlyphs">Worst VisualQuality-R1</text>
<text x="3282" y="1063" textLength="196" lengthAdjust="spacingAndGlyphs">Worst Q-Insight</text>
<text x="3660" y="1063" textLength="196" lengthAdjust="spacingAndGlyphs">Worst Q-Insight</text>
<text x="2529" y="1387">(a)</text><text x="2906" y="1387">(b)</text><text x="3282" y="1387">(c)</text><text x="3660" y="1387">(d)</text>
</g>
<g stroke="#111" stroke-width="5">
<line x1="2531" y1="922" x2="2531" y2="1020" marker-start="url(#ah2)" marker-end="url(#ah2)"/>
<line x1="2906" y1="922" x2="2906" y2="1020" marker-start="url(#ah2)" marker-end="url(#ah2)"/>
<line x1="3282" y1="922" x2="3282" y2="1020" marker-start="url(#ah2)" marker-end="url(#ah2)"/>
<line x1="3660" y1="922" x2="3660" y2="1020" marker-start="url(#ah2)" marker-end="url(#ah2)"/>
</g>
<rect x="2348" y="1077" width="364" height="273" fill="#050510"/>
<ellipse cx="2375" cy="1185" rx="25" ry="35" fill="#c8d0f8"/><ellipse cx="2420" cy="1140" rx="15" ry="25" fill="#a0a0b0"/><ellipse cx="2615" cy="1200" rx="30" ry="25" fill="#2a8a3a"/><ellipse cx="2635" cy="1230" rx="22" ry="20" fill="#e8f0ff"/><ellipse cx="2445" cy="1235" rx="15" ry="22" fill="#2a3ab0"/><ellipse cx="2545" cy="1320" rx="10" ry="18" fill="#8aa8ff"/>
<rect x="2725" y="1077" width="364" height="273" fill="#0a0a0e"/>
<rect x="2735" y="1150" width="330" height="130" fill="#1a0a0a"/>
<g class="sans" fill="#ff3030" font-weight="bold"><text x="2825" y="1205" font-size="42">92</text><text x="2920" y="1205" font-size="42">84</text><text x="2843" y="1262" font-size="56">00.0</text></g>
<rect x="3100" y="1077" width="368" height="273" fill="url(#cc2)"/>
<g stroke="#7ac8ff" stroke-width="14" opacity="0.8"><line x1="3100" y1="1150" x2="3300" y2="1300"/><line x1="3250" y1="1077" x2="3450" y2="1330"/><line x1="3420" y1="1090" x2="3240" y2="1240"/></g>
<rect x="3479" y="1077" width="365" height="273" fill="url(#cd2)"/>
<g stroke="#8aa0b8" stroke-width="10"><line x1="3500" y1="1150" x2="3700" y2="1330"/><line x1="3560" y1="1300" x2="3760" y2="1120"/><line x1="3620" y1="1100" x2="3820" y2="1260"/></g>
<circle cx="3745" cy="1250" r="25" fill="#e8e0e0" stroke="#d02020" stroke-width="6"/>

<!-- TABLE -->
<g class="serif" fill="#111">
<text x="2363" y="1518" font-size="37" textLength="1510" lengthAdjust="spacingAndGlyphs">Table 2: SRCC and PLCC results of NR-IQA models trained on KADID-10K. Exceptions include</text>
<text x="2363" y="1560" font-size="37" textLength="1510" lengthAdjust="spacingAndGlyphs">Q-Insight<tspan font-size="24" baseline-shift="14">†</tspan> and VisualQuality-R1<tspan font-size="24" baseline-shift="14">†</tspan>, which use a combined training set (KADID-10K and SPAQ). Top</text>
<text x="2363" y="1601" font-size="37" textLength="948" lengthAdjust="spacingAndGlyphs">two results are highlighted in <tspan font-weight="bold">bold</tspan> and <tspan text-decoration="underline">underline</tspan>, respectively.</text>
</g>
<rect x="2371" y="1613" width="1495" height="4" fill="#111"/>
<rect x="2371" y="1737" width="1495" height="2" fill="#111"/>
<rect x="2371" y="1740" width="1495" height="37" fill="#ebebeb"/>
<rect x="2371" y="1889" width="1495" height="2" fill="#111"/>
<rect x="2371" y="2040" width="1495" height="2" fill="#111"/>
<g stroke="#111" stroke-width="2">
<line x1="2687" y1="1627" x2="2687" y2="1738"/><line x1="3204" y1="1627" x2="3204" y2="1738"/><line x1="3745" y1="1627" x2="3745" y2="1738"/>
<line x1="2687" y1="1815" x2="2687" y2="1889"/><line x1="3204" y1="1815" x2="3204" y2="1889"/><line x1="3745" y1="1815" x2="3745" y2="1889"/>
<line x1="2687" y1="1925" x2="2687" y2="2040"/><line x1="3204" y1="1925" x2="3204" y2="2040"/><line x1="3745" y1="1925" x2="3745" y2="2040"/>
<line x1="2687" y1="2078" x2="2687" y2="2383"/><line x1="3204" y1="2078" x2="3204" y2="2383"/><line x1="3745" y1="2078" x2="3745" y2="2383"/>
</g>
<g class="serif" font-size="35" fill="#111" text-anchor="middle">
<text x="2947" y="1655">Imaging-Related Distortion</text>
<text x="3476" y="1655">Processing-Related Distortion</text>
<text x="2529" y="1697">Method</text>
<text x="2746" y="1711">BID</text><text x="2876" y="1711">CLIVE</text><text x="3014" y="1711">KonIQ</text><text x="3143" y="1711">SPAQ</text>
<text x="3281" y="1693">De-</text><text x="3281" y="1730">blurring</text>
<text x="3422" y="1693">Super-</text><text x="3422" y="1730">Res.</text>
<text x="3552" y="1693">De-</text><text x="3552" y="1730">hazing</text>
<text x="3682" y="1693">Image</text><text x="3682" y="1730">Gen.</text>
<text x="3806" y="1695">Avg</text>
</g>
<g class="serif" font-size="35" fill="#111">
<text x="2393" y="1769">SRCC</text>
<text x="2393" y="1808" font-style="italic">Handcrafted</text>
<text x="2393" y="1921" font-style="italic">Discriminative Deep-Learning-based</text>
<text x="2393" y="2072" font-style="italic">VLM-based</text>
<text x="2393" y="1845">NIQE [<tspan fill="#1a1aff">34</tspan>]</text>
<text x="2393" y="1882">BRISQUE [<tspan fill="#1a1aff">33</tspan>]</text>
<text x="2393" y="1957">UNIQUE [<tspan fill="#1a1aff">58</tspan>]</text>
<text x="2393" y="1994">MUSIQ [<tspan fill="#1a1aff">19</tspan>]</text>
<text x="2393" y="2032">MANIQA [<tspan fill="#1a1aff">54</tspan>]</text>
<text x="2393" y="2109">LIQE [<tspan fill="#1a1aff">59</tspan>]</text>
<text x="2393" y="2146">Q-Align [<tspan fill="#1a1aff">50</tspan>]</text>
<text x="2393" y="2183">DeQA-Score [<tspan fill="#1a1aff">55</tspan>]</text>
<text x="2393" y="2221">Qwen2.5-VL-7B [<tspan fill="#1a1aff">1</tspan>]</text>
<text x="2393" y="2259">Q-Insight [<tspan fill="#1a1aff">21</tspan>]</text>
<text x="2393" y="2297">Q-Insight<tspan font-size="24" baseline-shift="14">†</tspan></text>
<text x="2393" y="2336">VisualQuality-R1</text>
<text x="2393" y="2377">VisualQuality-R1<tspan font-size="24" baseline-shift="14">†</tspan></text>
</g>
<g class="serif" font-size="35" fill="#111" text-anchor="middle">
<g transform="translate(0,1845)"><text x="2746">0.515</text><text x="2876">0.450</text><text x="3014">0.421</text><text x="3143">0.676</text><text x="3281">0.360</text><text x="3422">0.557</text><text x="3552">0.343</text><text x="3682">0.533</text><text x="3806">0.482</text></g>
<g transform="translate(0,1882)"><text x="2746">0.522</text><text x="2876">0.314</text><text x="3014">0.385</text><text x="3143">0.614</text><text x="3281">0.389</text><text x="3422">0.482</text><text x="3552">0.242</text><text x="3682">0.497</text><text x="3806">0.431</text></g>
<g transform="translate(0,1957)"><text x="2746">0.412</text><text x="2876">0.470</text><text x="3014">0.649</text><text x="3143">0.751</text><text x="3281">0.669</text><text x="3422">0.649</text><text x="3552">0.577</text><text x="3682">0.608</text><text x="3806">0.598</text></g>
<g transform="translate(0,1994)"><text x="2746">0.327</text><text x="2876">0.284</text><text x="3014">0.473</text><text x="3143">0.720</text><text x="3281">0.656</text><text x="3422">0.404</text><text x="3552">0.458</text><text x="3682">0.494</text><text x="3806">0.477</text></g>
<g transform="translate(0,2032)"><text x="2746">0.420</text><text x="2876">0.487</text><text x="3014">0.213</text><text x="3143">0.745</text><text x="3281">0.726</text><text x="3422">0.263</text><text x="3552">0.608</text><text x="3682">0.422</text><text x="3806">0.486</text></g>
<g transform="translate(0,2109)"><text x="2746">0.677</text><text x="2876">0.719</text><text x="3014">0.684</text><text x="3143">0.815</text><text x="3281">0.797</text><text x="3422">0.743</text><text x="3552" font-weight="bold">0.646</text><text x="3682">0.653</text><text x="3806">0.717</text></g>
<g transform="translate(0,2146)"><text x="2746">0.576</text><text x="2876">0.554</text><text x="3014">0.573</text><text x="3143">0.767</text><text x="3281">0.761</text><text x="3422">0.684</text><text x="3552">0.455</text><text x="3682">0.682</text><text x="3806">0.632</text></g>
<g transform="translate(0,2183)"><text x="2746">0.702</text><text x="2876">0.743</text><text x="3014">0.677</text><text x="3143">0.852</text><text x="3281">0.785</text><text x="3422">0.710</text><text x="3552" text-decoration="underline">0.643</text><text x="3682">0.738</text><text x="3806">0.731</text></g>
<g transform="translate(0,2221)"><text x="2746">0.711</text><text x="2876">0.733</text><text x="3014">0.754</text><text x="3143">0.848</text><text x="3281">0.820</text><text x="3422">0.603</text><text x="3552">0.458</text><text x="3682">0.735</text><text x="3806">0.708</text></g>
<g transform="translate(0,2259)"><text x="2746">0.784</text><text x="2876">0.761</text><text x="3014">0.806</text><text x="3143">0.872</text><text x="3281">0.831</text><text x="3422">0.724</text><text x="3552">0.601</text><text x="3682">0.749</text><text x="3806">0.766</text></g>
<g transform="translate(0,2297)"><text x="2746" text-decoration="underline">0.806</text><text x="2876" text-decoration="underline">0.804</text><text x="3014">0.812</text><text x="3143" text-decoration="underline">0.907</text><text x="3281" font-weight="bold">0.846</text><text x="3422">0.700</text><text x="3552">0.539</text><text x="3682">0.657</text><text x="3806">0.759</text></g>
<g transform="translate(0,2336)"><text x="2746">0.790</text><text x="2876">0.750</text><text x="3014" text-decoration="underline">0.830</text><text x="3143">0.875</text><text x="3281">0.838</text><text x="3422" font-weight="bold">0.756</text><text x="3552">0.598</text><text x="3682" font-weight="bold">0.775</text><text x="3806" text-decoration="underline">0.777</text></g>
<g transform="translate(0,2377)"><text x="2746" font-weight="bold">0.811</text><text x="2876" font-weight="bold">0.811</text><text x="3014" font-weight="bold">0.855</text><text x="3143" font-weight="bold">0.913</text><text x="3281" text-decoration="underline">0.845</text><text x="3422" text-decoration="underline">0.752</text><text x="3552">0.588</text><text x="3682" text-decoration="underline">0.754</text><text x="3806" font-weight="bold">0.791</text></g>
</g>

<!-- RIGHT: logo -->
<rect x="4052" y="479" width="46" height="46" rx="6" fill="#e85d22"/>
<rect x="4121" y="489" width="30" height="30" rx="5" fill="#e85d22"/>
<rect x="4066" y="546" width="26" height="27" rx="5" fill="#e85d22"/>
<path d="M4075,640 C4068,560 4110,505 4190,498 C4250,494 4300,515 4318,540 L4232,566 C4200,610 4232,695 4334,742 L4185,742 C4112,728 4078,690 4075,640 Z" fill="url(#eag)"/>
<path d="M4228,552 C4268,528 4322,533 4326,578 C4328,596 4322,608 4318,612 C4302,586 4272,574 4236,576 Z" fill="#f5b400"/>
<circle cx="4232" cy="550" r="10" fill="#f5b400"/><circle cx="4232" cy="548" r="5" fill="#0c2a6a"/>
<rect x="4125" y="572" width="50" height="22" rx="6" fill="url(#cam)"/>
<rect x="4099" y="585" width="130" height="109" rx="14" fill="url(#cam)"/>
<circle cx="4165" cy="642" r="38" fill="#1d4fa0"/><circle cx="4165" cy="642" r="22" fill="#f07a22"/>
<text x="4320" y="682" class="sans" font-size="80" font-weight="bold" fill="#2b3a47" textLength="575" lengthAdjust="spacingAndGlyphs">VisualQuality-R1</text>

<!-- chart -->
<g stroke="#c8c8c8" stroke-width="2" stroke-dasharray="8,6"><line x1="4033" y1="865" x2="4892" y2="865"/><line x1="4033" y1="977" x2="4892" y2="977"/><line x1="4033" y1="1089" x2="4892" y2="1089"/><line x1="4033" y1="1200" x2="4892" y2="1200"/></g>
<rect x="4033" y="842" width="859" height="469" fill="none" stroke="#111" stroke-width="3"/>
<g stroke="#111" stroke-width="2"><line x1="4026" y1="865" x2="4033" y2="865"/><line x1="4026" y1="977" x2="4033" y2="977"/><line x1="4026" y1="1089" x2="4033" y2="1089"/><line x1="4026" y1="1200" x2="4033" y2="1200"/><line x1="4026" y1="1311" x2="4033" y2="1311"/></g>
<g class="sans" font-size="29" fill="#111" text-anchor="end"><text x="4020" y="875">0.20</text><text x="4020" y="987">0.15</text><text x="4020" y="1099">0.10</text><text x="4020" y="1210">0.05</text><text x="4020" y="1321">0.00</text></g>
<g class="sans" font-size="29" fill="#111" text-anchor="middle"><text x="4073" y="1352">0</text><text x="4114" y="1352">25</text><text x="4154" y="1352">50</text><text x="4236" y="1352">100</text><text x="4317" y="1352">150</text><text x="4398" y="1352">200</text><text x="4479" y="1352">250</text><text x="4561" y="1352">300</text><text x="4642" y="1352">350</text><text x="4723" y="1352">400</text><text x="4853" y="1352">480</text>
<text x="4462" y="1392" font-size="32">Training Step</text>
<text transform="translate(3946,1077) rotate(-90)" font-size="32">Standard Deviation</text></g>
<polyline fill="none" stroke="#f5b556" stroke-width="5" points="4073,972 4114,987 4154,1159 4236,1211 4317,1266 4398,1193 4479,1262 4561,1242 4642,1275 4723,1289 4853,1298"/>
<g fill="#f5b556"><circle cx="4073" cy="972" r="12"/><circle cx="4114" cy="987" r="12"/><circle cx="4154" cy="1159" r="12"/><circle cx="4236" cy="1211" r="12"/><circle cx="4317" cy="1266" r="12"/><circle cx="4398" cy="1193" r="12"/><circle cx="4479" cy="1262" r="12"/><circle cx="4561" cy="1242" r="12"/><circle cx="4642" cy="1275" r="12"/><circle cx="4723" cy="1289" r="12"/><circle cx="4853" cy="1298" r="12"/></g>
<polyline fill="none" stroke="#8fb573" stroke-width="5" points="4073,1097 4114,1126 4154,1231 4236,1190 4317,1271 4398,1293 4479,1253 4561,1284 4642,1284 4723,1244 4853,1280"/>
<g fill="#8fb573"><path d="M4073,1084 l13,22 h-26z M4114,1113 l13,22 h-26z M4154,1218 l13,22 h-26z M4236,1177 l13,22 h-26z M4317,1258 l13,22 h-26z M4398,1280 l13,22 h-26z M4479,1240 l13,22 h-26z M4561,1271 l13,22 h-26z M4642,1271 l13,22 h-26z M4723,1231 l13,22 h-26z M4853,1267 l13,22 h-26z"/></g>
<polyline fill="none" stroke="#6f98f7" stroke-width="5" points="4073,923 4114,992 4154,1083 4236,1242 4317,1213 4398,1213 4479,1226 4561,1257 4642,1284 4723,1302 4853,1298"/>
<g fill="#6f98f7"><path d="M4073,909 l13,14 -13,14 -13,-14z M4114,978 l13,14 -13,14 -13,-14z M4154,1069 l13,14 -13,14 -13,-14z M4236,1228 l13,14 -13,14 -13,-14z M4317,1199 l13,14 -13,14 -13,-14z M4398,1199 l13,14 -13,14 -13,-14z M4479,1212 l13,14 -13,14 -13,-14z M4561,1243 l13,14 -13,14 -13,-14z M4642,1270 l13,14 -13,14 -13,-14z M4723,1288 l13,14 -13,14 -13,-14z M4853,1284 l13,14 -13,14 -13,-14z"/></g>
<polyline fill="none" stroke="#ef5350" stroke-width="5" points="4073,874 4114,1019 4154,1010 4236,1137 4317,1222 4398,1222 4479,1219 4561,1217 4642,1215 4723,1224 4853,1235"/>
<g fill="#ef5350" font-family="'DejaVu Sans',sans-serif" font-size="38" text-anchor="middle"><text x="4073" y="888">★</text><text x="4114" y="1033">★</text><text x="4154" y="1024">★</text><text x="4236" y="1151">★</text><text x="4317" y="1236">★</text><text x="4398" y="1236">★</text><text x="4479" y="1233">★</text><text x="4561" y="1231">★</text><text x="4642" y="1229">★</text><text x="4723" y="1238">★</text><text x="4853" y="1249">★</text></g>
<rect x="4595" y="859" width="281" height="181" rx="6" fill="#fff" fill-opacity="0.9" stroke="#d0d0d0" stroke-width="2"/>
<g stroke-width="5"><line x1="4606" y1="884" x2="4672" y2="884" stroke="#f5b556"/><line x1="4606" y1="927" x2="4672" y2="927" stroke="#8fb573"/><line x1="4606" y1="971" x2="4672" y2="971" stroke="#6f98f7"/><line x1="4606" y1="1015" x2="4672" y2="1015" stroke="#ef5350"/></g>
<circle cx="4639" cy="884" r="12" fill="#f5b556"/><path d="M4639,914 l13,22 h-26z" fill="#8fb573"/><path d="M4639,957 l13,14 -13,14 -13,-14z" fill="#6f98f7"/>
<text x="4639" y="1029" text-anchor="middle" font-family="'DejaVu Sans',sans-serif" font-size="38" fill="#ef5350">★</text>
<g class="sans" font-size="30" fill="#111"><text x="4696" y="895">CLIVE</text><text x="4696" y="938">KonIQ-10K</text><text x="4696" y="982">SRIQA-Bench</text><text x="4696" y="1026">AGIQA-3K</text></g>

<!-- right bottom dialog -->
<rect x="3991" y="1434" width="487" height="183" rx="30" fill="#e6eafb"/>
<rect x="4022" y="1438" width="234" height="176" fill="url(#man)"/>
<ellipse cx="4140" cy="1490" rx="30" ry="38" fill="#e08a30"/>
<path d="M4060,1614 Q4080,1540 4140,1535 Q4210,1540 4240,1614 Z" fill="#c8741e"/>
<g class="sans" font-size="23" font-style="italic" fill="#111"><text x="4268" y="1508" textLength="191" lengthAdjust="spacingAndGlyphs">Please describe the</text><text x="4268" y="1538" textLength="158" lengthAdjust="spacingAndGlyphs">visual quality of</text><text x="4268" y="1568" textLength="108" lengthAdjust="spacingAndGlyphs">this image.</text></g>
<path d="M4498,1520 Q4500,1488 4520,1488 Q4542,1488 4544,1520 L4544,1545 L4498,1545 Z" fill="#b07a4a"/>
<circle cx="4521" cy="1518" r="15" fill="#fde0c8" stroke="#333" stroke-width="2"/>
<path d="M4493,1561 Q4495,1538 4521,1536 Q4547,1538 4549,1561 Z" fill="#f06292" stroke="#333" stroke-width="2"/>

<text x="3909" y="1670" class="sans" font-size="30" font-weight="bold" font-style="italic" fill="#111" textLength="128" lengthAdjust="spacingAndGlyphs">Q-Instruct</text>
<use href="#robot" x="3912" y="1686" width="70" height="74"/>
<rect x="3991" y="1686" width="563" height="129" rx="26" fill="#e6eafb"/>
<rect x="4001" y="1782" width="298" height="26" fill="#ffff00"/>
<g class="sans" font-size="22" font-style="italic" fill="#111">
<text x="4002" y="1714" textLength="498" lengthAdjust="spacingAndGlyphs"><tspan fill="#d00000" font-weight="bold">Are rich,</tspan> and the <tspan fill="#d00000" font-weight="bold">lighting is sufficient</tspan>. The texture</text>
<text x="4002" y="1744" textLength="535" lengthAdjust="spacingAndGlyphs">details are not clear. The composition is centered, and</text>
<text x="4002" y="1775" textLength="487" lengthAdjust="spacingAndGlyphs">the main subject is clearly the man in the middle.</text>
<text x="4002" y="1804" textLength="301" lengthAdjust="spacingAndGlyphs"><tspan font-weight="bold">Therefore, the quality is poor</tspan>.</text>
</g>
<text x="3920" y="1856" class="sans" font-size="30" font-weight="bold" font-style="italic" fill="#111" textLength="214" lengthAdjust="spacingAndGlyphs">VisualQuality-R1</text>
<use href="#robot" x="3914" y="1874" width="64" height="74"/>
<rect x="3991" y="1874" width="563" height="550" rx="30" fill="#e6eafb"/>
<g class="sans" font-size="22" font-style="italic" fill="#111">
<text x="4002" y="1910" textLength="521" lengthAdjust="spacingAndGlyphs">The image appears to be of low quality, with several</text>
<text x="4002" y="1940" textLength="174" lengthAdjust="spacingAndGlyphs">noticeable issues:</text>
<text x="4002" y="1970" textLength="521" lengthAdjust="spacingAndGlyphs"><tspan font-weight="bold">1. Blurriness</tspan>: The subject and background are not in</text>
<text x="4002" y="1999" textLength="524" lengthAdjust="spacingAndGlyphs">sharp focus, making it difficult to discern fine details.</text>
<text x="4002" y="2029" textLength="501" lengthAdjust="spacingAndGlyphs">2. <tspan font-weight="bold">Lighting</tspan>: The lighting seems uneven, <tspan fill="#3a8a1a" font-weight="bold">with some</tspan></text>
<text x="4002" y="2059" textLength="463" lengthAdjust="spacingAndGlyphs"><tspan fill="#3a8a1a" font-weight="bold">areas overexposed and others underexposed</tspan>,</text>
<text x="4002" y="2089" textLength="452" lengthAdjust="spacingAndGlyphs">particularly around the subject's face and the</text>
<text x="4002" y="2119" textLength="123" lengthAdjust="spacingAndGlyphs">microphone.</text>
<text x="4002" y="2148" textLength="535" lengthAdjust="spacingAndGlyphs">3. <tspan font-weight="bold">Color Balance</tspan>: The colors appear somewhat muted</text>
<text x="4002" y="2178" textLength="542" lengthAdjust="spacingAndGlyphs">or distorted, possibly <tspan fill="#3a8a1a" font-weight="bold">due to the lighting conditions or</tspan></text>
<text x="4002" y="2208" textLength="207" lengthAdjust="spacingAndGlyphs"><tspan fill="#3a8a1a" font-weight="bold">the camera settings.</tspan></text>
<text x="4002" y="2238" textLength="493" lengthAdjust="spacingAndGlyphs">4. <tspan font-weight="bold">Noise</tspan>: There is visible noise or graininess in the</text>
<text x="4002" y="2268" textLength="495" lengthAdjust="spacingAndGlyphs">image, which can be seen as small specks or dots,</text>
<text x="4002" y="2297" textLength="264" lengthAdjust="spacingAndGlyphs"><tspan fill="#3a8a1a" font-weight="bold">especially in darker areas.</tspan></text>
<text x="4002" y="2327" textLength="483" lengthAdjust="spacingAndGlyphs">Overall, the image lacks clarity and detail, which</text>
<text x="4002" y="2357" textLength="539" lengthAdjust="spacingAndGlyphs">affects its quality. <tspan fill="#3a8a1a" font-weight="bold">Improvements could include better</tspan></text>
<text x="4002" y="2387" textLength="481" lengthAdjust="spacingAndGlyphs"><tspan fill="#3a8a1a" font-weight="bold">focus, more consistent lighting, and potentially</tspan></text>
<text x="4002" y="2417" textLength="483" lengthAdjust="spacingAndGlyphs"><tspan fill="#3a8a1a" font-weight="bold">adjusting the color balance and reducing noise</tspan>.</text>
</g>

<!-- QR codes -->
<rect x="4602" y="1427" width="282" height="281" fill="url(#qr1)"/>
<g fill="#fff" stroke="#111" stroke-width="12"><rect x="4608" y="1433" width="50" height="50"/><rect x="4828" y="1433" width="50" height="50"/><rect x="4608" y="1652" width="50" height="50"/></g>
<g fill="#111"><rect x="4622" y="1447" width="22" height="22"/><rect x="4842" y="1447" width="22" height="22"/><rect x="4622" y="1666" width="22" height="22"/></g>
<rect x="4708" y="1530" width="68" height="66" rx="10" fill="#111"/>
<ellipse cx="4734" cy="1558" rx="16" ry="13" fill="#fff"/><ellipse cx="4752" cy="1570" rx="14" ry="11" fill="#fff" stroke="#111" stroke-width="3"/>

<rect x="4602" y="1768" width="282" height="283" fill="url(#qr2)"/>
<g fill="#fff" stroke="#111" stroke-width="14"><rect x="4609" y="1775" width="60" height="60"/><rect x="4817" y="1775" width="60" height="60"/><rect x="4609" y="1984" width="60" height="60"/></g>
<g fill="#111"><rect x="4625" y="1791" width="28" height="28"/><rect x="4833" y="1791" width="28" height="28"/><rect x="4625" y="2000" width="28" height="28"/></g>
<circle cx="4743" cy="1910" r="36" fill="#fff"/><circle cx="4743" cy="1910" r="28" fill="#111"/><path d="M4728,1925 Q4743,1890 4758,1925 Z" fill="#fff"/>

<rect x="4602" y="2105" width="287" height="287" fill="url(#qr2)"/>
<g fill="#fff" stroke="#111" stroke-width="14"><rect x="4609" y="2112" width="60" height="60"/><rect x="4822" y="2112" width="60" height="60"/><rect x="4609" y="2325" width="60" height="60"/></g>
<g fill="#111"><rect x="4625" y="2128" width="28" height="28"/><rect x="4838" y="2128" width="28" height="28"/><rect x="4625" y="2341" width="28" height="28"/></g>
<rect x="4718" y="2222" width="54" height="52" fill="#7a8a5a"/><circle cx="4745" cy="2242" r="12" fill="#e0c0a0"/><rect x="4730" y="2256" width="30" height="18" fill="#e8e8e8"/>
</svg>
</body></html>
